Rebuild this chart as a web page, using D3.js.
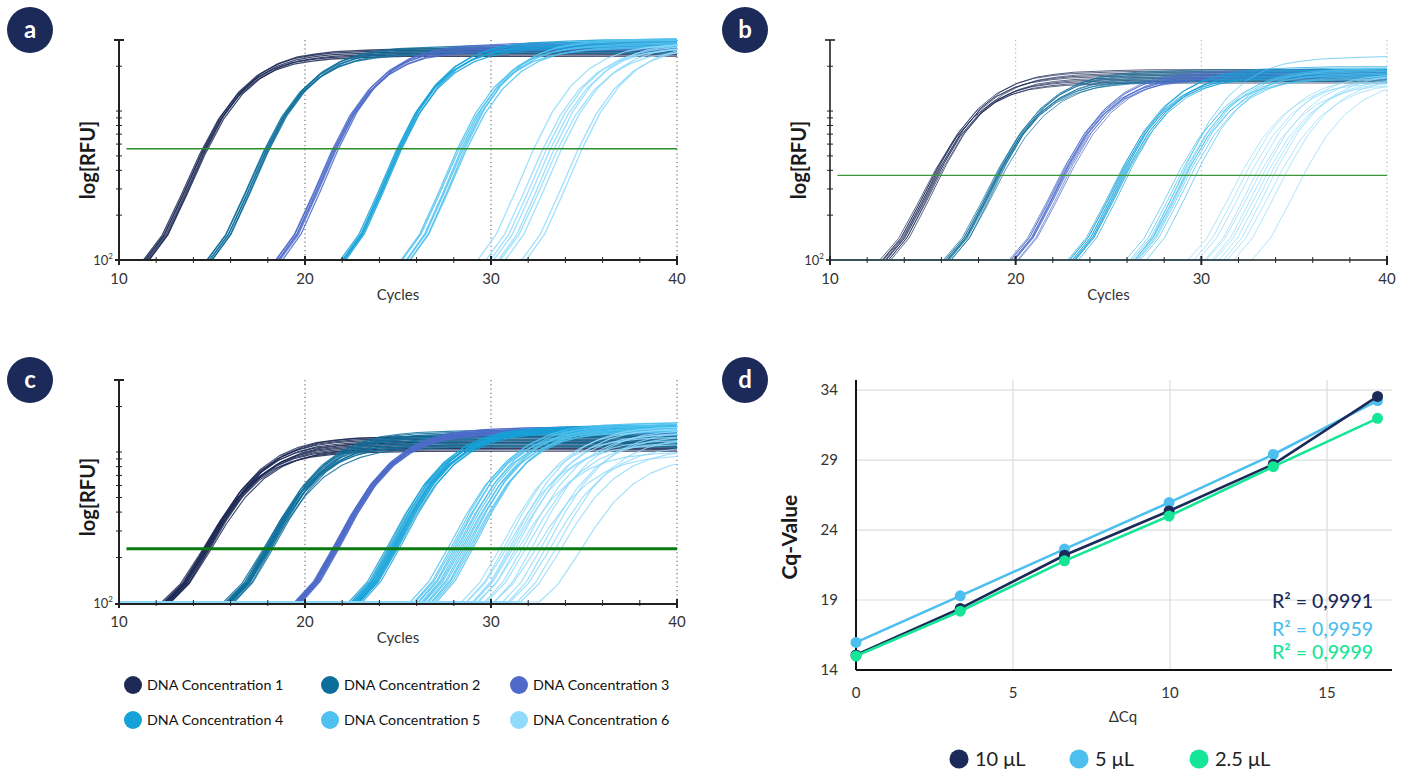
<!DOCTYPE html>
<html><head><meta charset="utf-8">
<script src="https://cdn.jsdelivr.net/npm/d3@7"></script>
<style>body{margin:0;background:#fff} svg{display:block} text{font-family:Lato,'Open Sans',sans-serif}</style>
</head><body><svg id="chart" width="1413" height="772"></svg>
<script>
// ---------------- data ----------------
const CONC_LABELS = ["DNA Concentration 1","DNA Concentration 2","DNA Concentration 3","DNA Concentration 4","DNA Concentration 5","DNA Concentration 6"];
const CONC_COLORS = ["#1d2a56","#0d6e9b","#4e6bc9","#15a2d8","#4dc2ee","#8fdbfb"];
const X_TICK_LABELS = [10,20,30,40];
const X_MINOR_TICKS = [12,14,16,18,22,24,26,28,32,34,36,38];
const Y_MINOR_TICKS = [200,300,400,500,600,700,800,900,1000,2000];
const GRID_CYCLES = [20,30,40];

// amplification shape: cycles after lift-off -> fraction of plateau (log scale)
const TEMPLATE_T = [0, 1, 2, 3, 4, 5, 6, 7, 8, 9, 10, 12, 14, 40];
const TEMPLATE_F = [0, 0.12, 0.31, 0.51, 0.68, 0.80, 0.88, 0.93, 0.96, 0.975, 0.985, 0.993, 0.998, 1];

// panel a: threshold crossing cycles (Cq) and plateau log10(RFU) per replicate
const THR_A = 558;
const CQ_A = [
  [14.5, 14.56, 14.6, 14.66, 14.7, 14.78],
  [17.85, 17.9, 17.96, 18.0, 18.05, 18.1],
  [21.5, 21.56, 21.6, 21.66, 21.7, 21.8],
  [24.95, 25.0, 25.06, 25.1, 25.15, 25.2],
  [28.2, 28.3, 28.42, 28.5, 28.6, 28.7],
  [32.3, 32.8, 33.0, 33.2, 33.4, 33.6, 33.8, 34.7, 34.9]
];
const PLAT_A = [
  [3.38, 3.41, 3.37, 3.4, 3.42, 3.39],
  [3.41, 3.39, 3.43, 3.4, 3.44, 3.42],
  [3.43, 3.41, 3.45, 3.42, 3.44, 3.46],
  [3.44, 3.47, 3.45, 3.48, 3.43, 3.46],
  [3.45, 3.43, 3.48, 3.46, 3.49, 3.44],
  [3.46, 3.43, 3.45, 3.44, 3.47, 3.42, 3.45, 3.44, 3.46]
];

// panel b
const THR_B = 370;
const CQ_B = [
  [15.52, 15.58, 15.6, 15.66, 15.7, 15.74, 15.8, 15.83, 15.9, 15.98],
  [18.9, 18.95, 19.0, 19.02, 19.05, 19.08, 19.1, 19.15, 19.2, 19.3],
  [22.4, 22.45, 22.5, 22.55, 22.58, 22.6, 22.65, 22.7, 22.8, 22.9],
  [25.55, 25.6, 25.65, 25.7, 25.75, 25.8, 25.85, 25.9, 25.95, 26.05],
  [28.7, 28.85, 28.95, 29.0, 29.1, 29.15, 29.2, 29.3, 29.45, 29.7],
  [32.1, 32.35, 32.6, 32.9, 33.1, 33.3, 33.5, 33.7, 33.9, 34.2, 34.5, 35.5]
];
const PLAT_B = [
  [3.19, 3.24, 3.21, 3.27, 3.2, 3.25, 3.22, 3.28, 3.23, 3.26],
  [3.21, 3.25, 3.2, 3.27, 3.23, 3.26, 3.22, 3.24, 3.28, 3.21],
  [3.23, 3.26, 3.22, 3.28, 3.24, 3.27, 3.25, 3.23, 3.26, 3.24],
  [3.24, 3.28, 3.23, 3.29, 3.26, 3.3, 3.25, 3.27, 3.24, 3.28],
  [3.22, 3.27, 3.37, 3.25, 3.29, 3.23, 3.28, 3.26, 3.24, 3.29],
  [3.2, 3.24, 3.22, 3.26, 3.19, 3.25, 3.21, 3.23, 3.26, 3.2, 3.24, 3.22]
];

// panel c
const THR_C = 229;
const CQ_C = [
  [14.55, 14.6, 14.62, 14.65, 14.68, 14.7, 14.72, 14.75, 14.78, 14.8, 14.84, 14.88, 14.92, 15.0],
  [17.8, 17.85, 17.9, 17.93, 17.96, 18.0, 18.02, 18.05, 18.08, 18.1, 18.14, 18.18, 18.22, 18.3],
  [21.5, 21.53, 21.56, 21.58, 21.6, 21.62, 21.65, 21.67, 21.7, 21.72, 21.75, 21.78, 21.81, 21.85],
  [24.4, 24.48, 24.55, 24.6, 24.65, 24.7, 24.74, 24.78, 24.82, 24.86, 24.9, 24.95, 25.0, 25.1],
  [27.7, 27.85, 27.95, 28.05, 28.15, 28.25, 28.35, 28.45, 28.55, 28.65, 28.75, 28.85, 28.95, 29.05],
  [30.5, 30.7, 30.85, 31.0, 31.1, 31.2, 31.35, 31.5, 31.7, 31.9, 32.2, 32.45, 32.7, 32.95, 33.2, 33.5, 33.8, 34.9]
];
const PLAT_C = [
  [3.0, 3.06, 3.02, 3.08, 3.03, 3.1, 3.04, 3.07, 3.01, 3.09, 3.05, 3.1, 3.06, 3.02],
  [3.04, 3.1, 3.06, 3.13, 3.08, 3.12, 3.05, 3.11, 3.14, 3.07, 3.1, 3.03, 3.12, 3.09],
  [3.12, 3.14, 3.13, 3.15, 3.12, 3.16, 3.14, 3.13, 3.15, 3.12, 3.14, 3.16, 3.13, 3.15],
  [3.13, 3.16, 3.14, 3.17, 3.15, 3.13, 3.16, 3.14, 3.17, 3.15, 3.14, 3.16, 3.13, 3.15],
  [3.13, 3.17, 3.15, 3.19, 3.14, 3.18, 3.16, 3.13, 3.17, 3.15, 3.19, 3.14, 3.16, 3.18],
  [3.1, 3.15, 3.05, 3.17, 3.12, 3.08, 3.16, 3.0, 3.13, 3.07, 3.15, 2.98, 3.11, 3.14, 3.04, 3.1, 3.02, 2.97]
];

// panel d
const D_X = [0, 3.32, 6.64, 9.97, 13.29, 16.61];
const D_10UL = [15.08, 18.4, 22.2, 25.36, 28.7, 33.55];
const D_5UL = [15.97, 19.3, 22.64, 25.96, 29.4, 33.25];
const D_2_5UL = [15.0, 18.2, 21.8, 25.0, 28.53, 31.98];
const D_SERIES = ["10 μL", "5 μL", "2.5 μL"];
const D_COLORS = ["#1b2a58", "#4cbfee", "#15e597"];
const R2_LABELS = ["R² = 0,9991", "R² = 0,9959", "R² = 0,9999"];
const D_Y_TICKS = [14, 19, 24, 29, 34];
const D_X_TICKS = [0, 5, 10, 15];
const D_GRID_X = [5, 10, 15];
const D_GRID_Y = [19, 24, 29, 34];

// ---------------- drawing ----------------
const svg = d3.select("#chart");
const BADGE = "#1b2a58";

function badge(cx, cy, letter) {
  svg.append("circle").attr("cx", cx).attr("cy", cy).attr("r", 23).attr("fill", BADGE);
  svg.append("text").attr("x", cx).attr("y", cy + 8).attr("text-anchor", "middle")
    .attr("fill", "#fff").attr("font-size", 24).attr("font-weight", 700).text(letter);
}

const tOfF = d3.scaleLinear().domain(TEMPLATE_F).range(TEMPLATE_T);

function qpcrPanel(cfg) {
  const g = svg.append("g");
  const x = d3.scaleLinear().domain([10, 40]).range([cfg.left, cfg.right]);
  const y = d3.scaleLog().domain([100, 3000]).range([cfg.bottom, cfg.top]);
  const ax = cfg.axisColor;

  g.selectAll("line.grid").data(GRID_CYCLES).join("line")
    .attr("x1", d => x(d)).attr("x2", d => x(d)).attr("y1", cfg.top).attr("y2", cfg.bottom)
    .attr("stroke", cfg.gridColor).attr("stroke-width", 1).attr("stroke-dasharray", "1.2,3");

  if (cfg.baselineVisible) {
    g.append("line").attr("x1", cfg.left - 4).attr("x2", cfg.right + 1).attr("y1", cfg.bottom + 1).attr("y2", cfg.bottom + 1)
      .attr("stroke", ax).attr("stroke-width", cfg.axW);
  }

  const clipId = "clip" + cfg.key;
  svg.append("clipPath").attr("id", clipId).append("rect")
    .attr("x", cfg.left).attr("y", cfg.top - 2).attr("width", cfg.right - cfg.left).attr("height", cfg.bottom - cfg.top + 3);

  const line = d3.line().x(d => x(d[0])).y(d => y(d[1]) - (cfg.baselineVisible ? 1 : 0));
  const thrLog = Math.log10(cfg.thr);
  const cg = g.append("g").attr("clip-path", `url(#${clipId})`);
  cfg.cq.forEach((reps, ci) => {
    reps.forEach((cq, ri) => {
      const p = cfg.plat[ci][ri];
      const start = cq - tOfF((thrLog - 2) / (p - 2));
      const pts = [[0, 100]].concat(TEMPLATE_T.map((t, i) => [start + t, Math.pow(10, 2 + TEMPLATE_F[i] * (p - 2))]));
      cg.append("path").attr("d", line(pts)).attr("fill", "none")
        .attr("stroke", CONC_COLORS[ci]).attr("stroke-width", cfg.lw).attr("stroke-opacity", cfg.op)
        .attr("stroke-linejoin", "round");
    });
  });

  // threshold
  g.append("line").attr("x1", x(10.4)).attr("x2", x(40)).attr("y1", y(cfg.thr)).attr("y2", y(cfg.thr))
    .attr("stroke", cfg.thrColor).attr("stroke-width", cfg.thrW);

  // axes
  g.append("line").attr("x1", cfg.left).attr("x2", cfg.left).attr("y1", cfg.top).attr("y2", cfg.bottom)
    .attr("stroke", ax).attr("stroke-width", cfg.axW);
  g.append("line").attr("x1", cfg.left - 5).attr("x2", cfg.left + 5).attr("y1", cfg.top).attr("y2", cfg.top)
    .attr("stroke", ax).attr("stroke-width", cfg.axW);
  g.selectAll("line.ytk").data(Y_MINOR_TICKS).join("line")
    .attr("x1", cfg.left - 3).attr("x2", cfg.left + 3).attr("y1", d => y(d)).attr("y2", d => y(d))
    .attr("stroke", ax).attr("stroke-width", 1);
  if (!cfg.baselineVisible) {
    g.append("line").attr("x1", cfg.left - 4).attr("x2", cfg.right + 1).attr("y1", cfg.bottom).attr("y2", cfg.bottom)
      .attr("stroke", ax).attr("stroke-width", cfg.axW);
  }
  g.selectAll("line.xmin").data(X_MINOR_TICKS).join("line")
    .attr("x1", d => x(d)).attr("x2", d => x(d)).attr("y1", cfg.bottom - 3).attr("y2", cfg.bottom + 3)
    .attr("stroke", ax).attr("stroke-width", 1);
  g.selectAll("line.xmaj").data(X_TICK_LABELS).join("line")
    .attr("x1", d => x(d)).attr("x2", d => x(d)).attr("y1", cfg.bottom - 4).attr("y2", cfg.bottom + 5)
    .attr("stroke", ax).attr("stroke-width", 2);
  g.selectAll("text.xl").data(X_TICK_LABELS).join("text")
    .attr("x", d => x(d)).attr("y", cfg.bottom + 24).attr("text-anchor", "middle")
    .attr("font-size", 15).attr("fill", "#333").text(d => d);
  const t10 = g.append("text").attr("x", cfg.left - 6).attr("y", cfg.bottom + 5).attr("text-anchor", "end")
    .attr("font-size", 13).attr("fill", "#333");
  t10.append("tspan").text("10");
  t10.append("tspan").attr("font-size", 8).attr("dy", -6).text("2");

  g.append("text").attr("x", x(25)).attr("y", cfg.bottom + 40).attr("text-anchor", "middle")
    .attr("font-size", 15).attr("fill", "#333").text("Cycles");
  g.append("text").attr("transform", `translate(${cfg.left - 24},${cfg.labelY}) rotate(-90)`)
    .attr("text-anchor", "middle").attr("font-size", 20).attr("font-weight", 700).attr("fill", "#1a1a1a")
    .text("log[RFU]");
}

qpcrPanel({key: "a", left: 119, right: 677, top: 40, bottom: 260, cq: CQ_A, plat: PLAT_A, thr: THR_A,
  lw: 1.3, op: 0.85, thrColor: "#2b8c2b", thrW: 1.6, gridColor: "#555", axisColor: "#222", axW: 2, labelY: 160});
qpcrPanel({key: "b", left: 830, right: 1387, top: 40, bottom: 260, cq: CQ_B, plat: PLAT_B, thr: THR_B,
  lw: 0.9, op: 0.8, thrColor: "#3a983a", thrW: 1.3, gridColor: "#aaa", axisColor: "#222", axW: 1.6, labelY: 160});
qpcrPanel({key: "c", left: 119, right: 677, top: 380, bottom: 603, cq: CQ_C, plat: PLAT_C, thr: THR_C,
  lw: 1.15, op: 0.85, thrColor: "#0a7a10", thrW: 3, gridColor: "#555", axisColor: "#222", axW: 2, labelY: 497,
  baselineVisible: true});

badge(30, 30, "a");
badge(745, 30, "b");
badge(30, 380, "c");
badge(745, 380, "d");

// legend for a-c
const legX = [133, 330, 519];
const legY = [685, 720];
CONC_LABELS.forEach((lab, i) => {
  const cx = legX[i % 3], cy = legY[Math.floor(i / 3)];
  svg.append("circle").attr("cx", cx).attr("cy", cy).attr("r", 9).attr("fill", CONC_COLORS[i]);
  svg.append("text").attr("x", cx + 14).attr("y", cy + 5).attr("font-size", 14.3).attr("fill", "#111").text(lab);
});

// panel d
(function () {
  const L = 856, R = 1392, T = 380, B = 670;
  const x = d3.scaleLinear().domain([0, 17.07]).range([L, R]);
  const y = d3.scaleLinear().domain([14, 34.72]).range([B, T]);
  const g = svg.append("g");
  g.selectAll("line.gx").data(D_GRID_X).join("line")
    .attr("x1", d => x(d)).attr("x2", d => x(d)).attr("y1", T).attr("y2", B).attr("stroke", "#dcdcdc").attr("stroke-width", 1.2);
  g.selectAll("line.gy").data(D_GRID_Y).join("line")
    .attr("x1", L).attr("x2", R).attr("y1", d => y(d)).attr("y2", d => y(d)).attr("stroke", "#dcdcdc").attr("stroke-width", 1.2);
  g.append("line").attr("x1", L).attr("x2", L).attr("y1", T).attr("y2", B).attr("stroke", "#111").attr("stroke-width", 2);
  g.append("line").attr("x1", L).attr("x2", R).attr("y1", B).attr("y2", B).attr("stroke", "#111").attr("stroke-width", 2);
  g.selectAll("text.yl").data(D_Y_TICKS).join("text")
    .attr("x", L - 18).attr("y", d => y(d) + 5).attr("text-anchor", "end").attr("font-size", 15).attr("fill", "#333").text(d => d);
  g.selectAll("text.xl").data(D_X_TICKS).join("text")
    .attr("x", d => x(d)).attr("y", B + 28).attr("text-anchor", "middle").attr("font-size", 15).attr("fill", "#333").text(d => d);
  g.append("text").attr("x", x(8.5)).attr("y", 722).attr("text-anchor", "middle").attr("font-size", 15).attr("fill", "#333").text("ΔCq");
  g.append("text").attr("transform", `translate(${L - 59},${y(23.5)}) rotate(-90)`)
    .attr("text-anchor", "middle").attr("font-size", 21).attr("font-weight", 700).attr("fill", "#1a1a1a").text("Cq-Value");

  const series = [D_10UL, D_5UL, D_2_5UL];
  const order = [1, 0, 2];
  const line = d3.line().x((d, i) => x(D_X[i])).y(d => y(d));
  order.forEach(si => {
    g.append("path").attr("d", line(series[si])).attr("fill", "none").attr("stroke", D_COLORS[si]).attr("stroke-width", 2.6);
    g.selectAll(null).data(series[si]).join("circle")
      .attr("cx", (d, i) => x(D_X[i])).attr("cy", d => y(d)).attr("r", 5.5).attr("fill", D_COLORS[si]);
  });
  const r2Y = [608, 636, 659];
  R2_LABELS.forEach((t, i) => {
    g.append("text").attr("x", 1373).attr("y", r2Y[i]).attr("text-anchor", "end")
      .attr("font-size", 19.5).attr("font-weight", 500).attr("fill", D_COLORS[i]).text(t);
  });
  const lgC = [959, 1079, 1199];
  D_SERIES.forEach((s, i) => {
    g.append("circle").attr("cx", lgC[i]).attr("cy", 759).attr("r", 9.5).attr("fill", D_COLORS[i]);
    g.append("text").attr("x", lgC[i] + 16).attr("y", 766).attr("font-size", 20).attr("fill", "#222").text(s);
  });
})();
</script></body></html>
